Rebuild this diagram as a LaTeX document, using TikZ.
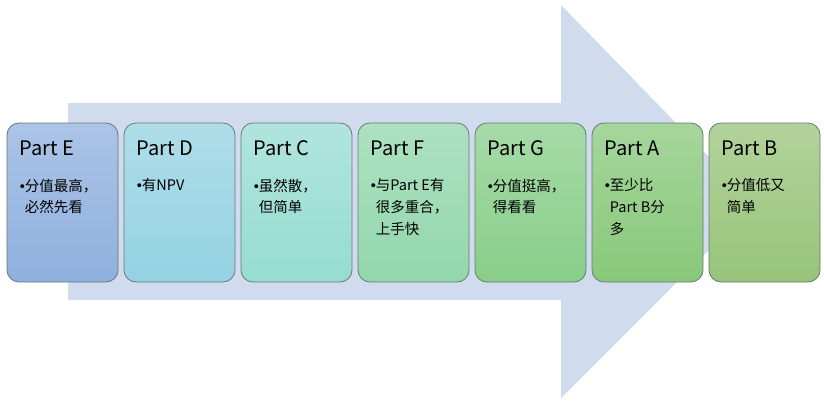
\documentclass[tikz,border=0pt]{standalone}
\usepackage{fontspec}
\newfontfamily\cjk{Noto Sans CJK SC}
\newfontfamily\ltn{Liberation Sans}
\usetikzlibrary{positioning,calc}
\newcommand{\ptBul}{{\ltn •}}
\newcommand{\ptHang}{\phantom{\ptBul}}
\definecolor{arBody}{RGB}{209,219,238}
\definecolor{ptLine}{RGB}{105,120,115}
\definecolor{ptE}{RGB}{143,176,222}
\definecolor{ptD}{RGB}{148,210,226}
\definecolor{ptC}{RGB}{150,220,208}
\definecolor{ptF}{RGB}{146,215,172}
\definecolor{ptG}{RGB}{136,206,138}
\definecolor{ptA}{RGB}{136,200,122}
\definecolor{ptB}{RGB}{152,196,122}
\tikzset{
  ptBox/.style={draw=ptLine, line width=0.8pt, rounded corners=12pt,
                top color=#1!75!white, bottom color=#1,
                minimum width=111pt, minimum height=159pt, inner sep=0pt},
  ptTitle/.style={anchor=base west, inner sep=0pt,
                  font=\cjk\fontsize{20}{24}\selectfont},
  ptText/.style={anchor=north west, inner sep=0pt, align=left,
                 font=\cjk\fontsize{14.5}{21.7}\selectfont}
}

\begin{document}
\begin{tikzpicture}[x=1pt,y=-1pt]
  \useasboundingbox (0,0) rectangle (824,408);
  % big arrow behind the boxes
  \fill[arBody] (68,103) -- (561,103) -- (561,5) -- (755,204)
                -- (561,398) -- (561,300) -- (68,300) -- cycle;

  \node[ptBox=ptE] (boxE) at (62.5,202.5) {};
  \node[ptBox=ptD] (boxD) at (179.5,202.5) {};
  \node[ptBox=ptC] (boxC) at (296.5,202.5) {};
  \node[ptBox=ptF] (boxF) at (413.5,202.5) {};
  \node[ptBox=ptG] (boxG) at (530.5,202.5) {};
  \node[ptBox=ptA] (boxA) at (647.5,202.5) {};
  \node[ptBox=ptB] (boxB) at (764.5,202.5) {};

  \node[ptTitle] (tE) at ($(boxE.north west)+(13,33)$) {Part E};
  \node[ptTitle] (tD) at ($(boxD.north west)+(13,33)$) {Part D};
  \node[ptTitle] (tC) at ($(boxC.north west)+(13,33)$) {Part C};
  \node[ptTitle] (tF) at ($(boxF.north west)+(13,33)$) {Part F};
  \node[ptTitle] (tG) at ($(boxG.north west)+(13,33)$) {Part G};
  \node[ptTitle] (tA) at ($(boxA.north west)+(13,33)$) {Part A};
  \node[ptTitle] (tB) at ($(boxB.north west)+(13,33)$) {Part B};

  \node[ptText] (bE) at ($(boxE.north west)+(13,56)$) {\ptBul 分值最高，\\\ptHang 必然先看};
  \node[ptText] (bD) at ($(boxD.north west)+(13,56)$) {\ptBul 有NPV};
  \node[ptText] (bC) at ($(boxC.north west)+(13,56)$) {\ptBul 虽然散，\\\ptHang 但简单};
  \node[ptText] (bF) at ($(boxF.north west)+(13,56)$) {\ptBul 与Part E有\\\ptHang 很多重合，\\\ptHang 上手快};
  \node[ptText] (bG) at ($(boxG.north west)+(13,56)$) {\ptBul 分值挺高，\\\ptHang 得看看};
  \node[ptText] (bA) at ($(boxA.north west)+(13,56)$) {\ptBul 至少比\\\ptHang Part B分\\\ptHang 多};
  \node[ptText] (bB) at ($(boxB.north west)+(13,56)$) {\ptBul 分值低又\\\ptHang 简单};
\end{tikzpicture}
\end{document}
